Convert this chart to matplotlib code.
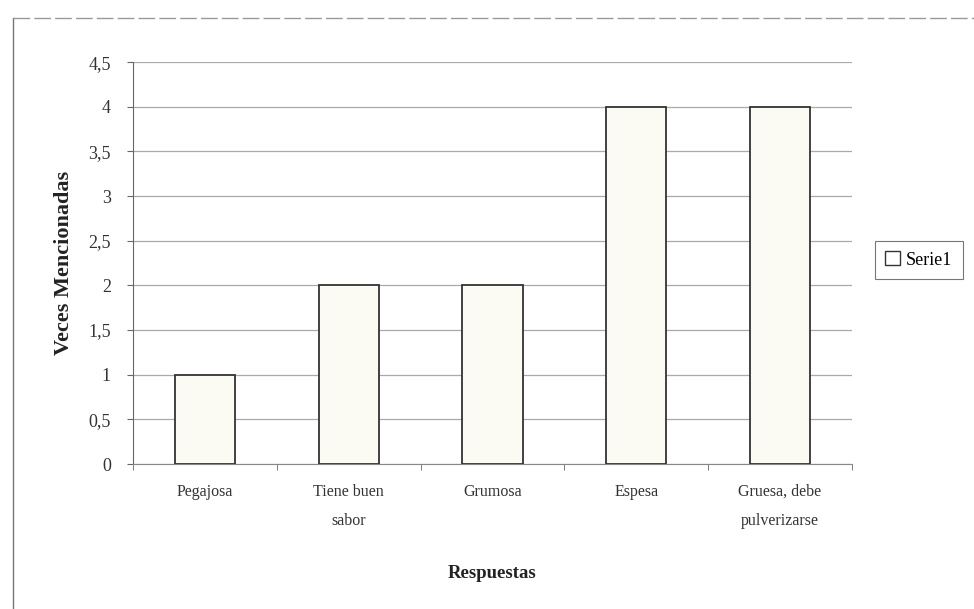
import matplotlib.pyplot as plt
from matplotlib.lines import Line2D
from matplotlib.patches import Patch

categorias = ['Pegajosa', 'Tiene buen\nsabor', 'Grumosa', 'Espesa', 'Gruesa, debe\npulverizarse']
serie1 = [1, 2, 2, 4, 4]
yticks = [0, 0.5, 1, 1.5, 2, 2.5, 3, 3.5, 4, 4.5]
ytick_labels = ['0', '0,5', '1', '1,5', '2', '2,5', '3', '3,5', '4', '4,5']

plt.rcParams['font.family'] = ['Liberation Serif', 'DejaVu Serif']

fig = plt.figure(figsize=(9.74, 6.09), dpi=100)
ax = fig.add_axes([0.1366, 0.238, 0.738, 0.66])

x = list(range(len(categorias)))
ax.bar(x, serie1, width=0.42, color='#fbfbf3', edgecolor='#333333', linewidth=1.3, zorder=3)

ax.set_xlim(-0.5, len(categorias) - 0.5)
ax.set_ylim(0, 4.5)
ax.set_yticks(yticks)
ax.set_yticklabels(ytick_labels, fontsize=13, color='#333333')
ax.set_xticks(x)
ax.set_xticklabels(categorias, fontsize=11.5, color='#333333', linespacing=2.1)
ax.tick_params(axis='x', length=0, pad=14)
ax.tick_params(axis='y', length=4, color='#666666', pad=12)

# marcas entre categorias, como en Excel
ax.set_xticks([i - 0.5 for i in range(len(categorias) + 1)], minor=True)
ax.tick_params(axis='x', which='minor', length=4, color='#666666', direction='out')

ax.yaxis.grid(True, color='#aaaaaa', linewidth=0.9, zorder=0)
ax.set_axisbelow(True)
for s in ['top', 'right']:
    ax.spines[s].set_visible(False)
ax.spines['left'].set_color('#666666')
ax.spines['bottom'].set_color('#888888')

ax.set_ylabel('Veces Mencionadas', fontsize=16, fontweight='bold', color='#222222', labelpad=10)
ax.set_xlabel('Respuestas', fontsize=13.5, fontweight='bold', color='#222222', labelpad=26)

leg = fig.legend(handles=[Patch(facecolor='white', edgecolor='#333333', label='Serie1')],
                 loc='center left', bbox_to_anchor=(0.898, 0.573), fontsize=13,
                 frameon=True, fancybox=False, handlelength=0.8, handleheight=0.8,
                 handletextpad=0.3, borderpad=0.6, borderaxespad=0)
leg.get_frame().set_edgecolor('#555555')
leg.get_frame().set_linewidth(0.8)

# borde del grafico
fig.add_artist(Line2D([0.0135, 0.0135], [0.0, 0.97], color='#777777', linewidth=1.0))
fig.add_artist(Line2D([0.0135, 1.0], [0.97, 0.97], color='#999999', linewidth=1.0, linestyle=(0, (12, 3))))

fig.savefig('out.png', dpi=100)
